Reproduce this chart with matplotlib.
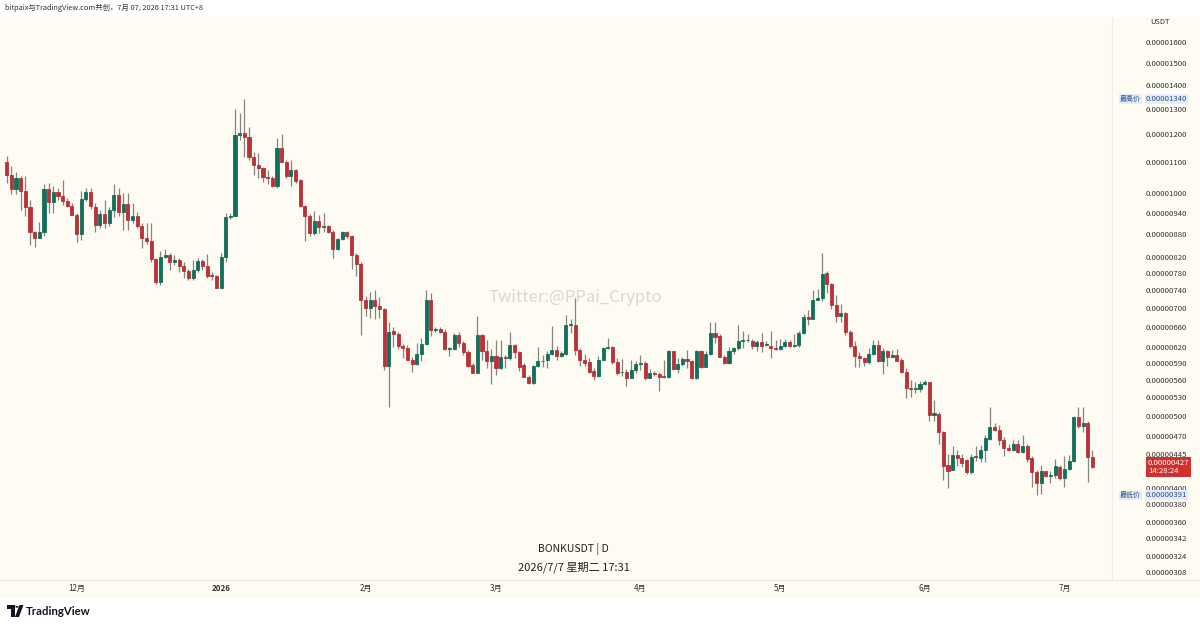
import matplotlib
matplotlib.use('Agg')
import matplotlib.pyplot as plt
import matplotlib.dates as mdates
from matplotlib.patches import Rectangle, Polygon, Circle
import matplotlib.transforms as mtransforms
import pandas as pd

plt.rcParams['font.family'] = ['Noto Sans CJK SC', 'DejaVu Sans']

# daily BONKUSDT candles, prices in units of 1e-8 USDT
dates = pd.date_range('2025-11-16', '2026-07-07', freq='D')

opens = [
    1103, 1058, 1012, 1047, 1008, 959, 887, 871, 887, 1012,
    974, 1002, 990, 977, 962, 935, 881, 982, 1003, 959,
    906, 938, 911, 949, 995, 944, 966, 920, 932, 903,
    871, 862, 815, 759, 821, 825, 806, 812, 797, 785,
    767, 787, 810, 798, 775, 772, 745, 821, 927, 932,
    1198, 1207, 1192, 1118, 1090, 1081, 1050, 1049, 1021, 1150,
    1103, 1055, 1075, 1040, 961, 932, 882, 918, 899, 903,
    885, 840, 866, 885, 876, 825, 803, 718, 700, 718,
    705, 697, 585, 652, 645, 622, 617, 596, 587, 607,
    625, 718, 653, 656, 650, 616, 616, 643, 627, 611,
    586, 572, 643, 612, 594, 603, 581, 601, 598, 623,
    610, 586, 565, 554, 584, 593, 595, 606, 613, 603,
    607, 663, 664, 614, 596, 591, 575, 566, 596, 617,
    619, 591, 573, 574, 563, 577, 588, 590, 562, 571,
    570, 567, 564, 612, 578, 588, 597, 594, 562, 612,
    583, 606, 648, 642, 601, 590, 612, 617, 632, 633,
    631, 621, 630, 623, 622, 617, 616, 622, 629, 622,
    623, 648, 680, 677, 718, 721, 780, 753, 706, 682,
    688, 650, 621, 602, 598, 591, 607, 623, 593, 612,
    600, 604, 595, 574, 546, 544, 543, 552, 555, 501,
    503, 476, 429, 423, 443, 439, 436, 420, 440, 439,
    450, 466, 483, 479, 464, 453, 450, 459, 447, 456,
    439, 420, 406, 421, 415, 416, 427, 412, 424, 435,
    498, 484, 489, 440,
]
highs = [
    1124, 1089, 1068, 1053, 1053, 979, 889, 914, 1028, 1031,
    1021, 1015, 1042, 984, 969, 940, 1005, 1015, 1015, 969,
    949, 979, 959, 1028, 1015, 1000, 1000, 969, 944, 911,
    911, 911, 817, 834, 841, 829, 825, 817, 808, 791,
    812, 817, 815, 828, 783, 775, 829, 940, 940, 1299,
    1282, 1340, 1230, 1138, 1132, 1086, 1075, 1053, 1186, 1203,
    1109, 1109, 1077, 1044, 964, 938, 947, 935, 940, 906,
    892, 869, 889, 889, 878, 829, 808, 726, 736, 740,
    724, 700, 670, 660, 650, 625, 623, 600, 627, 638,
    741, 732, 660, 660, 656, 619, 648, 650, 632, 614,
    589, 683, 646, 633, 616, 633, 633, 604, 649, 625,
    612, 589, 568, 586, 619, 604, 612, 661, 621, 612,
    684, 677, 721, 617, 607, 598, 580, 602, 619, 637,
    621, 598, 597, 579, 595, 593, 605, 593, 579, 576,
    574, 595, 613, 612, 598, 600, 614, 595, 613, 614,
    612, 670, 670, 646, 605, 619, 619, 663, 651, 646,
    636, 633, 648, 632, 651, 633, 635, 635, 633, 646,
    651, 686, 695, 741, 742, 829, 784, 757, 728, 708,
    692, 653, 632, 611, 600, 617, 633, 633, 617, 614,
    614, 615, 598, 580, 559, 556, 557, 559, 556, 526,
    507, 477, 445, 456, 450, 445, 438, 445, 456, 457,
    472, 514, 490, 487, 469, 458, 464, 464, 472, 458,
    441, 423, 430, 422, 421, 438, 430, 441, 443, 500,
    515, 515, 492, 450,
]
lows = [
    1031, 997, 997, 949, 930, 851, 845, 869, 874, 940,
    940, 979, 964, 959, 933, 860, 864, 976, 952, 887,
    898, 898, 904, 927, 930, 892, 892, 911, 898, 844,
    853, 806, 753, 751, 817, 787, 800, 783, 768, 763,
    763, 783, 787, 769, 763, 744, 744, 808, 923, 930,
    1180, 1120, 1109, 1058, 1047, 1034, 1028, 1018, 1015, 1100,
    1047, 1021, 1033, 959, 862, 874, 878, 883, 885, 883,
    817, 838, 864, 869, 791, 772, 643, 682, 678, 677,
    678, 577, 514, 619, 616, 598, 595, 574, 586, 593,
    624, 641, 650, 648, 613, 602, 613, 619, 604, 583,
    571, 571, 595, 580, 552, 568, 578, 580, 595, 598,
    576, 564, 552, 553, 583, 583, 581, 604, 595, 601,
    604, 647, 604, 585, 585, 571, 560, 565, 595, 615,
    588, 568, 566, 549, 562, 571, 577, 559, 562, 567,
    540, 562, 562, 577, 571, 585, 580, 561, 561, 581,
    583, 605, 627, 600, 588, 588, 607, 614, 617, 630,
    615, 612, 611, 621, 598, 614, 614, 619, 619, 619,
    619, 646, 663, 676, 717, 714, 733, 697, 670, 670,
    643, 617, 583, 583, 585, 588, 605, 591, 569, 585,
    600, 593, 571, 529, 531, 537, 539, 550, 492, 492,
    458, 410, 400, 423, 428, 427, 417, 418, 435, 434,
    434, 464, 477, 457, 441, 448, 449, 446, 446, 433,
    401, 391, 392, 414, 406, 413, 410, 401, 423, 434,
    482, 476, 407, 425,
]
closes = [
    1058, 1012, 1047, 1008, 959, 887, 871, 887, 1012, 974,
    1002, 990, 977, 962, 935, 881, 982, 1003, 962, 906,
    938, 911, 949, 995, 944, 966, 920, 930, 903, 871,
    862, 815, 759, 821, 825, 806, 812, 797, 785, 767,
    787, 810, 798, 773, 773, 745, 821, 927, 932, 1198,
    1207, 1192, 1118, 1090, 1081, 1050, 1049, 1021, 1150, 1103,
    1055, 1075, 1037, 961, 932, 882, 918, 899, 903, 885,
    840, 866, 885, 874, 825, 803, 718, 700, 718, 705,
    697, 585, 650, 645, 622, 617, 596, 587, 607, 625,
    718, 653, 656, 650, 616, 617, 643, 627, 611, 585,
    572, 643, 612, 594, 603, 581, 601, 598, 623, 610,
    583, 565, 554, 584, 593, 594, 606, 613, 603, 608,
    663, 665, 614, 595, 590, 574, 566, 596, 617, 619,
    591, 572, 574, 563, 577, 588, 590, 562, 571, 570,
    565, 564, 612, 578, 588, 597, 594, 562, 612, 583,
    606, 648, 640, 601, 590, 612, 617, 632, 634, 634,
    621, 630, 622, 625, 617, 616, 622, 629, 622, 623,
    648, 680, 677, 718, 721, 778, 753, 706, 682, 688,
    650, 621, 602, 598, 591, 607, 623, 593, 612, 600,
    604, 593, 573, 546, 544, 546, 552, 555, 501, 504,
    476, 428, 422, 443, 439, 432, 420, 440, 442, 450,
    467, 483, 479, 464, 453, 450, 459, 447, 456, 438,
    420, 406, 421, 415, 416, 428, 412, 424, 435, 498,
    484, 489, 440, 427,
]

price_ticks = [1600, 1500, 1400, 1300, 1200, 1100, 1000, 940, 880, 820, 780, 740,
               700, 660, 620, 590, 560, 530, 500, 470, 445, 400, 380, 360, 342, 324, 308]
month_ticks = ['2025-12-01', '2026-01-01', '2026-02-01', '2026-03-01',
               '2026-04-01', '2026-05-01', '2026-06-01', '2026-07-01']
month_labels = ['12月', '2026', '2月', '3月', '4月', '5月', '6月', '7月']

high_price = 1340
low_price = 391
last_price = 427

UP = '#12705a'
DOWN = '#b8323a'
WICK = '#85857e'
CREAM = '#fdfbf2'

W, H = 1200, 627
fig = plt.figure(figsize=(W / 100, H / 100), dpi=100)
fig.patch.set_facecolor('white')


def fx(px):
    return px / W


def fy(py):
    return 1 - py / H


# cream chart background incl. price and time axis
fig.add_artist(Rectangle((0, fy(598)), 1, fy(17) - fy(598), transform=fig.transFigure,
                         facecolor=CREAM, edgecolor='none', zorder=-5))

ax = fig.add_axes([0, fy(580), fx(1112), fy(17) - fy(580)])
ax.set_facecolor(CREAM)

x = mdates.date2num(dates)
for xi, o, h, l, c in zip(x, opens, highs, lows, closes):
    col = UP if c >= o else DOWN
    ax.vlines(xi, l, h, color=WICK, linewidth=0.9, zorder=2)
    ax.bar(xi, abs(c - o), bottom=min(o, c), width=0.66, color=col,
           edgecolor=col, linewidth=0.6, zorder=3)

ax.set_yscale('log')
ax.set_ylim(300.3, 1729)
ax.set_xlim(x[0] - 1.44, x[0] + 237.2)

ax.yaxis.tick_right()
ax.set_yticks(price_ticks)
ax.set_yticklabels([f'{v / 1e8:.8f}' for v in price_ticks])
ax.yaxis.set_minor_locator(matplotlib.ticker.NullLocator())
ax.tick_params(axis='y', length=0, pad=54, labelsize=5.6, labelcolor='#333333')
for lbl in ax.get_yticklabels():
    lbl.set_horizontalalignment('right')

ax.set_xticks(mdates.date2num(pd.to_datetime(month_ticks)))
ax.set_xticklabels(month_labels)
ax.tick_params(axis='x', length=0, pad=3, labelsize=5.8, labelcolor='#333333')
for lbl in ax.get_xticklabels():
    if lbl.get_text() == '2026':
        lbl.set_fontweight('bold')

for side in ['top', 'left']:
    ax.spines[side].set_visible(False)
ax.spines['bottom'].set_color('#ebe8dd')
ax.spines['right'].set_color('#f0ede3')
ax.spines['bottom'].set_linewidth(0.8)
ax.spines['right'].set_linewidth(0.8)
fig.add_artist(plt.Line2D([fx(1112), 1], [fy(580), fy(580)], transform=fig.transFigure,
                          color='#ebe8dd', linewidth=0.8))

# price axis badges
tr = mtransforms.blended_transform_factory(ax.transAxes, ax.transData)
xr = 1187 / 1112
badge = dict(boxstyle='square,pad=0.08', facecolor='#e4ecf7', edgecolor='none')
for val, name in [(high_price, '最高价'), (low_price, '最低价')]:
    ax.text(xr, val, f'{val / 1e8:.8f}', transform=tr, ha='right', va='center',
            fontsize=5.6, color='#2b4f8a', clip_on=False, bbox=badge)
    ax.text(1141 / 1112, val, name, transform=tr, ha='right', va='center',
            fontsize=5.0, color='#2b4f8a', clip_on=False, bbox=badge)
ax.text(1148 / 1112, last_price, f'{last_price / 1e8:.8f}\n14:28:24', transform=tr,
        ha='left', va='center', multialignment='left', fontsize=5.6, color='white',
        clip_on=False, linespacing=1.05,
        bbox=dict(boxstyle='square,pad=0.22', facecolor='#d2302c', edgecolor='none'))

fig.text(fx(1150), fy(22), 'USDT', fontsize=5.4, color='#333333', va='center')

# watermark and symbol
fig.text(fx(575), fy(298), 'Twitter:@PPai_Crypto', fontsize=12, color='#dad8d0',
         ha='center', va='center')
fig.text(fx(573), fy(549), 'BONKUSDT | D', fontsize=7.5, color='#222222',
         ha='center', va='center')
fig.text(fx(574), fy(567), '2026/7/7 星期二 17:31', fontsize=8, color='#222222',
         ha='center', va='center')

# header
fig.text(fx(5), fy(8), 'bitpaix与TradingView.com共创，7月 07, 2026 17:31 UTC+8',
         fontsize=5.3, color='#333333', va='center')

# TradingView logo
logo_t = Polygon([(fx(7), fy(605)), (fx(14.5), fy(605)), (fx(14.5), fy(617)),
                  (fx(11), fy(617)), (fx(11), fy(608.5)), (fx(7), fy(608.5))],
                 closed=True, transform=fig.transFigure, facecolor='#131722')
logo_v = Polygon([(fx(19.5), fy(605)), (fx(23.5), fy(605)), (fx(19), fy(617)), (fx(15), fy(617))],
                 closed=True, transform=fig.transFigure, facecolor='#131722')
fig.add_artist(logo_t)
fig.add_artist(logo_v)
fig.add_artist(Circle((fx(17), fy(606.8)), fx(1.7), transform=fig.transFigure,
                      facecolor='#131722', edgecolor='none'))
fig.text(fx(26), fy(611.5), 'TradingView', fontsize=8.2, fontweight='bold',
         color='#131722', va='center', family=['Lato', 'DejaVu Sans'])

fig.savefig('out.png', dpi=100, facecolor='white')
